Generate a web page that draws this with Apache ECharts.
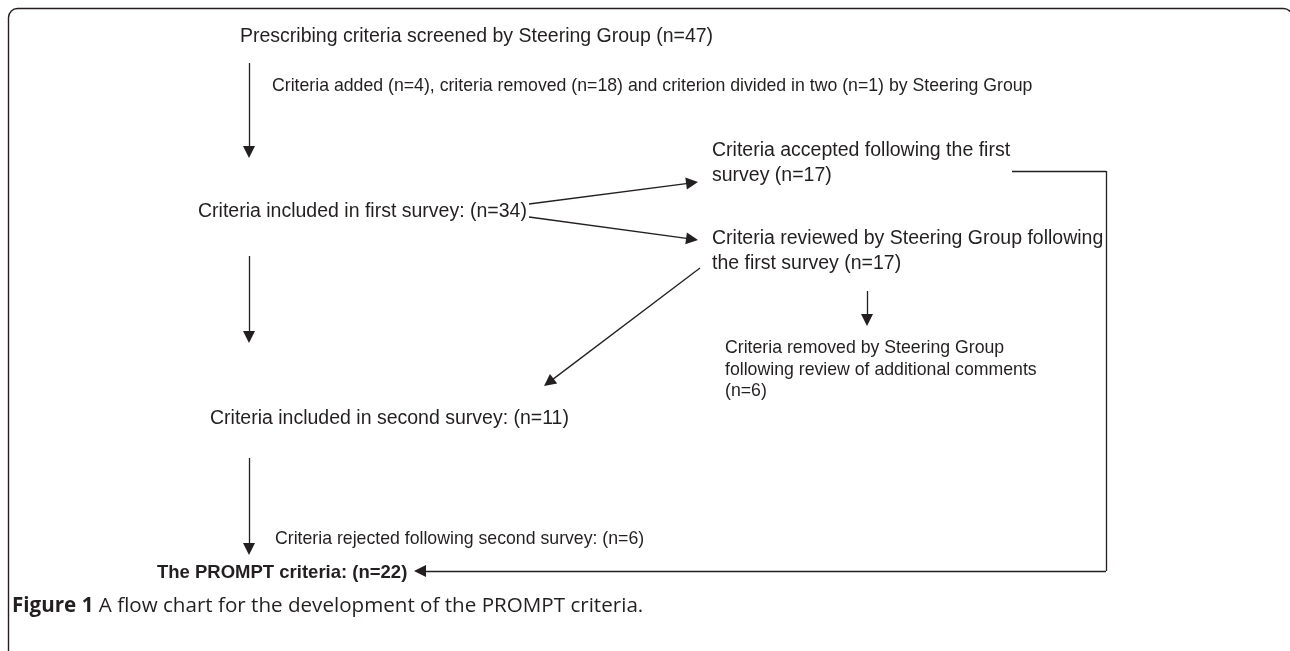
<!DOCTYPE html>
<html>
<head>
<meta charset="utf-8">
<script src="https://cdn.jsdelivr.net/npm/echarts@6/dist/echarts.min.js"></script>
<style>
  html, body { margin: 0; padding: 0; background: #fff; }
  #chart { width: 1290px; height: 651px; }
</style>
</head>
<body>
<div id="chart"></div>
<script>
// box texts of the flow chart
const boxIds = ['screened', 'changes', 'accepted', 'firstSurvey', 'reviewed', 'removed', 'secondSurvey', 'rejected', 'prompt']
const boxTexts = [
  'Prescribing criteria screened by Steering Group (n=47)',
  'Criteria added (n=4), criteria removed (n=18) and criterion divided in two (n=1) by Steering Group',
  'Criteria accepted following the first\nsurvey (n=17)',
  'Criteria included in first survey: (n=34)',
  'Criteria reviewed by Steering Group following\nthe first survey (n=17)',
  'Criteria removed by Steering Group\nfollowing review of additional comments\n(n=6)',
  'Criteria included in second survey: (n=11)',
  'Criteria rejected following second survey: (n=6)',
  'The PROMPT criteria: (n=22)'
]
const captionText = '{b|Figure 1} A flow chart for the development of the PROMPT criteria.'

// connectors: [from, to, hasArrow]
const connectors = [
  ['a1s', 'a1e', true],
  ['f1s', 'f1e', true],
  ['f2s', 'f2e', true],
  ['a2s', 'a2e', true],
  ['sms', 'sme', true],
  ['dgs', 'dge', true],
  ['a3s', 'a3e', true],
  ['cA', 'cB', false],
  ['cB', 'cC', false],
  ['cC', 'cD', true]
]

// layout (pixel space of the hidden axes), kept apart from the texts
const layout = {
  screened: [240, 37], changes: [272, 86], accepted: [712, 163], firstSurvey: [198, 212],
  reviewed: [712, 251], removed: [725, 370], secondSurvey: [210, 419], rejected: [275, 539],
  prompt: [157, 573], caption: [12, 606],
  a1s: [249, 63], a1e: [249, 158],
  f1s: [529, 204], f1e: [698, 182],
  f2s: [529, 217], f2e: [698, 240],
  a2s: [249, 256], a2e: [249, 343],
  sms: [867, 291], sme: [867, 326],
  dgs: [700, 268], dge: [544, 386],
  a3s: [249, 458], a3e: [249, 555],
  cA: [1012, 171], cB: [1106, 171], cC: [1106, 571], cD: [414, 571]
}
const bigFont = { fontFamily: 'Liberation Sans', fontSize: 19.5, lineHeight: 24.5 }
const smallFont = { fontFamily: 'Liberation Sans', fontSize: 17.7, lineHeight: 21.5 }
const fontOf = {
  screened: bigFont, changes: smallFont, accepted: bigFont, firstSurvey: bigFont, reviewed: bigFont,
  removed: smallFont, secondSurvey: bigFont, rejected: smallFont,
  prompt: { fontFamily: 'Liberation Sans', fontSize: 18.5, fontWeight: 'bold' }
}
const ink = '#231f20'
const arrowSize = 12

let nodes = []
boxIds.forEach((id, i) => {
  nodes.push({
    name: id,
    value: layout[id],
    label: Object.assign({ show: true, position: 'right', distance: 0, color: ink, formatter: boxTexts[i] }, fontOf[id])
  })
})
nodes.push({
  name: 'caption',
  value: layout.caption,
  label: {
    show: true, position: 'right', distance: 0, color: ink, formatter: captionText,
    fontFamily: 'Open Sans', fontSize: 20.6, fontWeight: 500,
    rich: { b: { fontFamily: 'Open Sans', fontSize: 20.6, fontWeight: 'bold', color: ink } }
  }
})
// anchor points; arrow ends pulled back half a head so the tip lands on the point
let arrowEnds = {}
connectors.forEach(c => { if (c[2]) arrowEnds[c[1]] = c[0] })
Object.keys(layout).forEach(id => {
  if (boxIds.indexOf(id) >= 0 || id === 'caption') return
  let p = layout[id].slice()
  if (arrowEnds[id]) {
    let s = layout[arrowEnds[id]]
    let dx = p[0] - s[0], dy = p[1] - s[1]
    let len = Math.sqrt(dx * dx + dy * dy)
    p = [p[0] - dx / len * arrowSize / 2, p[1] - dy / len * arrowSize / 2]
  }
  nodes.push({ name: id, value: p, label: { show: false } })
})
let links = connectors.map(c => ({
  source: c[0],
  target: c[1],
  symbol: ['none', c[2] ? 'triangle' : 'none'],
  symbolSize: [0, arrowSize]
}))

let myChart = echarts.init(document.getElementById('chart'))
myChart.setOption({
  animation: false,
  backgroundColor: '#fff',
  grid: { left: 0, right: 0, top: 0, bottom: 0 },
  xAxis: { type: 'value', min: 0, max: 1290, show: false },
  yAxis: { type: 'value', min: 0, max: 651, inverse: true, show: false },
  graphic: [{
    // figure frame, its right and bottom edges fall outside the page
    type: 'rect',
    shape: { x: 8.5, y: 8.5, width: 1284, height: 700, r: 9 },
    style: { fill: 'none', stroke: ink, lineWidth: 1.4 },
    silent: true
  }],
  series: [{
    type: 'graph',
    coordinateSystem: 'cartesian2d',
    layout: 'none',
    silent: true,
    symbol: 'circle',
    symbolSize: 0.01,
    itemStyle: { color: 'rgba(0,0,0,0)' },
    lineStyle: { color: ink, width: 1.3, opacity: 1, curveness: 0 },
    edgeSymbol: ['none', 'none'],
    data: nodes,
    links: links
  }]
})
</script>
</body>
</html>
